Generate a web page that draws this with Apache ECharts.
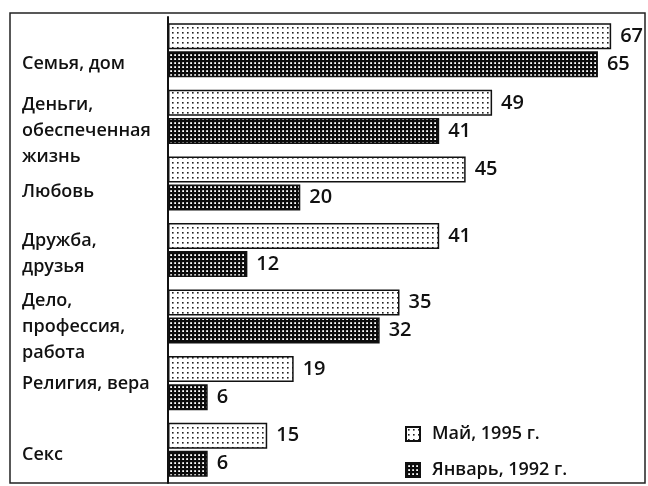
<!DOCTYPE html>
<html><head><meta charset="utf-8">
<script src="https://cdn.jsdelivr.net/npm/echarts@6/dist/echarts.min.js"></script>
<style>html,body{margin:0;padding:0;background:#fff}#c{width:648px;height:486px}</style>
</head><body><div id="c"></div>
<script>
var categories = ['Семья, дом', 'Деньги,\nобеспеченная\nжизнь', 'Любовь', 'Дружба,\nдрузья', 'Дело,\nпрофессия,\nработа', 'Религия, вера', 'Секс'];
var may1995 = [67, 49, 45, 41, 35, 19, 15];
var jan1992 = [65, 41, 20, 12, 32, 6, 6];
var seriesNames = ['Май, 1995 г.', 'Январь, 1992 г.'];
var labelGap = [28, 28, 16, 8, 20, 1, 10];

function dotPattern() {
  var c = document.createElement('canvas'); c.width = 5; c.height = 5;
  var g = c.getContext('2d'); g.fillStyle = '#fff'; g.fillRect(0, 0, 5, 5);
  g.fillStyle = '#222'; g.fillRect(2, 2, 1.6, 1.6);
  return c;
}
function gridPattern() {
  var c = document.createElement('canvas'); c.width = 4; c.height = 4;
  var g = c.getContext('2d'); g.fillStyle = '#fff'; g.fillRect(0, 0, 4, 4);
  g.fillStyle = '#0c0c0c'; g.fillRect(0, 0, 4, 2.2); g.fillRect(0, 0, 2.2, 4);
  return c;
}
var font = '"Open Sans", "DejaVu Sans", sans-serif';
var rich = {};
labelGap.forEach(function (h, i) { rich['g' + i] = { height: h, lineHeight: h, fontSize: 1 }; });
var chart = echarts.init(document.getElementById('c'));
var lbl = { show: true, position: 'right', distance: 9, fontSize: 20, fontFamily: font, fontWeight: 600, color: '#111' };
chart.setOption({
  animation: false,
  backgroundColor: '#fff',
  grid: { left: 168, top: 17, width: 463, height: 466 },
  xAxis: { type: 'value', min: 0, max: 70, show: false },
  yAxis: {
    type: 'category', inverse: true, data: categories,
    axisLine: { show: true, lineStyle: { color: '#111', width: 2 } },
    axisTick: { show: false },
    axisLabel: {
      interval: 0, align: 'left', margin: 146, fontSize: 18, fontFamily: font, fontWeight: 600, color: '#111', lineHeight: 26,
      formatter: function (v, i) { return '{g' + i + '| }\n' + v; },
      rich: rich
    }
  },
  legend: {
    orient: 'vertical', left: 400, top: 420, height: 80, itemWidth: 14, itemHeight: 14, itemGap: 18, icon: 'rect',
    textStyle: { fontSize: 18, lineHeight: 16, fontFamily: font, fontWeight: 600, color: '#111', padding: [0, 0, 0, 7] },
    data: seriesNames
  },
  series: [
    { name: seriesNames[0], type: 'bar', data: may1995, barWidth: 26, barGap: '8%',
      itemStyle: { color: { image: dotPattern(), repeat: 'repeat' }, borderColor: '#111', borderWidth: 1.5 }, label: lbl },
    { name: seriesNames[1], type: 'bar', data: jan1992, barWidth: 26,
      itemStyle: { color: { image: gridPattern(), repeat: 'repeat' }, borderColor: '#111', borderWidth: 1.5 }, label: lbl }
  ],
  graphic: [
    { type: 'rect', shape: { x: 10, y: 13, width: 635, height: 470 }, style: { fill: 'none', stroke: '#222', lineWidth: 1.5 }, silent: true }
  ]
});
</script></body></html>
